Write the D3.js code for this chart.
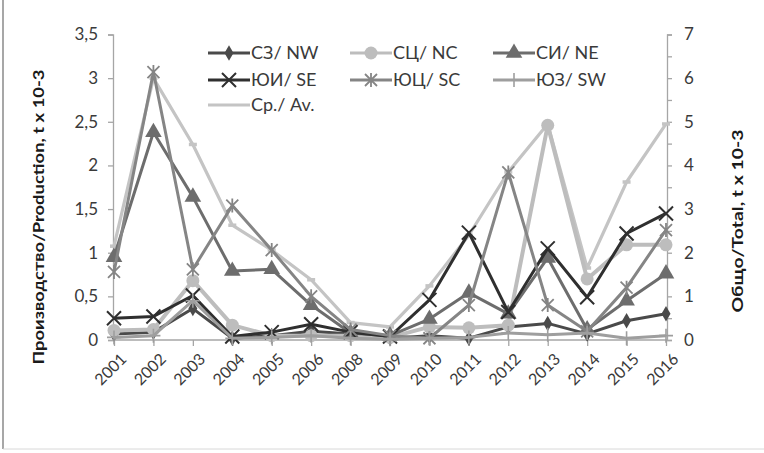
<!DOCTYPE html>
<html>
<head>
<meta charset="utf-8">
<script src="https://cdn.jsdelivr.net/npm/d3@7"></script>
<style>
  html, body { margin: 0; padding: 0; background: #fff; }
  svg { display: block; font-family: Lato, "Open Sans", sans-serif; }
</style>
</head>
<body>
<svg id="chart" width="764" height="453"></svg>
<script>
const years = ["2001","2002","2003","2004","2005","2006","2008","2009","2010","2011","2012","2013","2014","2015","2016"];

const nw = [0.07, 0.09, 0.36, 0.02, 0.05, 0.10, 0.07, 0.02, 0.05, 0.02, 0.15, 0.19, 0.07, 0.22, 0.30];
const nc = [0.11, 0.12, 0.68, 0.17, 0.05, 0.05, 0.05, 0.03, 0.15, 0.14, 0.17, 2.46, 0.70, 1.09, 1.09];
const ne = [0.95, 2.38, 1.64, 0.79, 0.81, 0.40, 0.08, 0.05, 0.24, 0.54, 0.30, 0.94, 0.12, 0.45, 0.76];
const se = [0.25, 0.27, 0.51, 0.04, 0.09, 0.18, 0.09, 0.04, 0.46, 1.23, 0.32, 1.05, 0.49, 1.22, 1.45];
const sc = [0.78, 3.07, 0.81, 1.54, 1.03, 0.50, 0.12, 0.05, 0.02, 0.40, 1.92, 0.40, 0.10, 0.60, 1.26];
const sw = [0.03, 0.05, 0.45, 0.02, 0.03, 0.05, 0.02, 0.01, 0.02, 0.03, 0.08, 0.06, 0.08, 0.02, 0.05];
const avTotal = [2.15, 6.0, 4.48, 2.63, 2.06, 1.38, 0.40, 0.30, 1.24, 2.40, 3.85, 4.95, 1.65, 3.62, 4.95];

const leftTicks = [0, 0.5, 1, 1.5, 2, 2.5, 3, 3.5];
const rightTicks = [0, 1, 2, 3, 4, 5, 6, 7];

const svg = d3.select("#chart");
const X0 = 114, X1 = 666, Y0 = 340, YT = 34.5;

const x = d3.scalePoint().domain(years).range([X0, X1]).padding(0);
const yL = d3.scaleLinear().domain([0, 3.5]).range([Y0, YT]);
const yR = d3.scaleLinear().domain([0, 7]).range([Y0, YT]);

const fmt = d => String(d).replace(".", ",");

// frame
svg.append("line").attr("x1", 3).attr("x2", 3).attr("y1", 0).attr("y2", 449).attr("stroke", "#8a8a8a").attr("stroke-width", 1.5);
svg.append("line").attr("x1", 3).attr("x2", 764).attr("y1", 449).attr("y2", 449).attr("stroke", "#d8d8d8").attr("stroke-width", 1);

// axes
const axisColor = "#a6a6a6";
const textColor = "#3a3a3a";

const gL = svg.append("g").attr("transform", `translate(${X0 - 1},0)`)
  .call(d3.axisLeft(yL).tickValues(leftTicks).tickFormat(fmt).tickSizeOuter(0).tickSize(5).tickPadding(10));
const gR = svg.append("g").attr("transform", `translate(${X1 + 1},0)`)
  .call(d3.axisRight(yR).tickValues(d3.range(0, 7.01, 0.5)).tickFormat(d => rightTicks.includes(d) ? d : "").tickSizeOuter(0).tickSize(5).tickPadding(12));
const gB = svg.append("g").attr("transform", `translate(0,${Y0})`)
  .call(d3.axisBottom(x).tickSizeOuter(0).tickSize(6).tickPadding(4));

[gL, gR, gB].forEach(g => {
  g.select(".domain").attr("stroke", axisColor).attr("stroke-width", 1.3);
  g.selectAll(".tick line").attr("stroke", axisColor).attr("stroke-width", 1.3);
  g.selectAll(".tick text").attr("fill", textColor).style("font-size", "17px").style("font-family", "Lato, sans-serif");
});
gB.select(".domain").attr("d", `M${X0 - 1},0H${X1 + 1}`);
gB.selectAll(".tick text")
  .attr("text-anchor", "end")
  .attr("dy", 0)
  .attr("transform", "translate(6,13) rotate(-45)")
  .style("font-size", "16px");

// axis titles
svg.append("text")
  .attr("transform", "translate(44,217) rotate(-90)")
  .attr("text-anchor", "middle")
  .attr("fill", "#1a1a1a")
  .attr("textLength", 295).attr("lengthAdjust", "spacingAndGlyphs")
  .style("font-size", "16px").style("font-weight", "bold")
  .text("Производство/Production, t x 10-3");
svg.append("text")
  .attr("transform", "translate(743,221) rotate(-90)")
  .attr("text-anchor", "middle")
  .attr("fill", "#1a1a1a")
  .attr("textLength", 183).attr("lengthAdjust", "spacingAndGlyphs")
  .style("font-size", "16px").style("font-weight", "bold")
  .text("Общо/Total, t x 10-3");

// markers
function drawMarker(g, type, color, cx, cy) {
  if (type === "diamond") {
    g.append("path").attr("d", d3.symbol(d3.symbolDiamond, 70)()).attr("transform", `translate(${cx},${cy})`).attr("fill", color);
  } else if (type === "circle") {
    g.append("circle").attr("cx", cx).attr("cy", cy).attr("r", 6.5).attr("fill", color);
  } else if (type === "triangle") {
    g.append("path").attr("d", d3.symbol(d3.symbolTriangle, 120)()).attr("transform", `translate(${cx},${cy})`).attr("fill", color);
  } else if (type === "x") {
    const s = 7;
    g.append("path").attr("d", `M${cx - s},${cy - s}L${cx + s},${cy + s}M${cx - s},${cy + s}L${cx + s},${cy - s}`)
      .attr("stroke", color).attr("stroke-width", 2);
  } else if (type === "star") {
    const s = 6;
    g.append("path").attr("d", `M${cx - s},${cy - s}L${cx + s},${cy + s}M${cx - s},${cy + s}L${cx + s},${cy - s}M${cx},${cy - s - 1}L${cx},${cy + s + 1}`)
      .attr("stroke", color).attr("stroke-width", 1.8);
  } else if (type === "plus") {
    const s = 7;
    g.append("path").attr("d", `M${cx - s},${cy}L${cx + s},${cy}M${cx},${cy - s}L${cx},${cy + s}`)
      .attr("stroke", color).attr("stroke-width", 1.6);
  } else if (type === "dash") {
    g.append("path").attr("d", `M${cx - 4},${cy}L${cx + 4},${cy}`)
      .attr("stroke", color).attr("stroke-width", 3.5);
  }
}

const series = [
  { name: "Ср./ Av.", values: avTotal, y: yR, color: "#c4c4c4", marker: "dash", width: 3.2 },
  { name: "СЗ/ NW", values: nw, y: yL, color: "#4a4a4a", marker: "diamond", width: 3 },
  { name: "СЦ/ NC", values: nc, y: yL, color: "#bdbdbd", marker: "circle", width: 4 },
  { name: "СИ/ NE", values: ne, y: yL, color: "#6d6d6d", marker: "triangle", width: 3 },
  { name: "ЮИ/ SE", values: se, y: yL, color: "#2f2f2f", marker: "x", width: 3 },
  { name: "ЮЦ/ SC", values: sc, y: yL, color: "#858585", marker: "star", width: 3 },
  { name: "ЮЗ/ SW", values: sw, y: yL, color: "#9e9e9e", marker: "plus", width: 3 }
];

const plot = svg.append("g");
series.forEach(s => {
  const line = d3.line().x((d, i) => x(years[i])).y(d => s.y(d));
  plot.append("path").datum(s.values).attr("d", line)
    .attr("fill", "none").attr("stroke", s.color).attr("stroke-width", s.width)
    .attr("stroke-linejoin", "round");
  const mg = plot.append("g");
  s.values.forEach((v, i) => drawMarker(mg, s.marker, s.color, x(years[i]), s.y(v)));
});

// legend
const legendOrder = [
  { s: series[1], col: 0, row: 0 },
  { s: series[2], col: 1, row: 0 },
  { s: series[3], col: 2, row: 0 },
  { s: series[4], col: 0, row: 1 },
  { s: series[5], col: 1, row: 1 },
  { s: series[6], col: 2, row: 1 },
  { s: series[0], col: 0, row: 2 }
];
const colX = [208, 350, 493];
const rowY = [53, 80, 105];
const lg = svg.append("g");
legendOrder.forEach(e => {
  const lx = colX[e.col], ly = rowY[e.row];
  lg.append("line").attr("x1", lx).attr("x2", lx + 42).attr("y1", ly).attr("y2", ly)
    .attr("stroke", e.s.color).attr("stroke-width", 3);
  if (e.s.marker !== "dash") drawMarker(lg, e.s.marker, e.s.color, lx + 21, ly);
  lg.append("text").attr("x", lx + 43).attr("y", ly).attr("dy", "0.35em")
    .attr("fill", textColor).style("font-size", "18px").text(e.s.name);
});
</script>
</body>
</html>
